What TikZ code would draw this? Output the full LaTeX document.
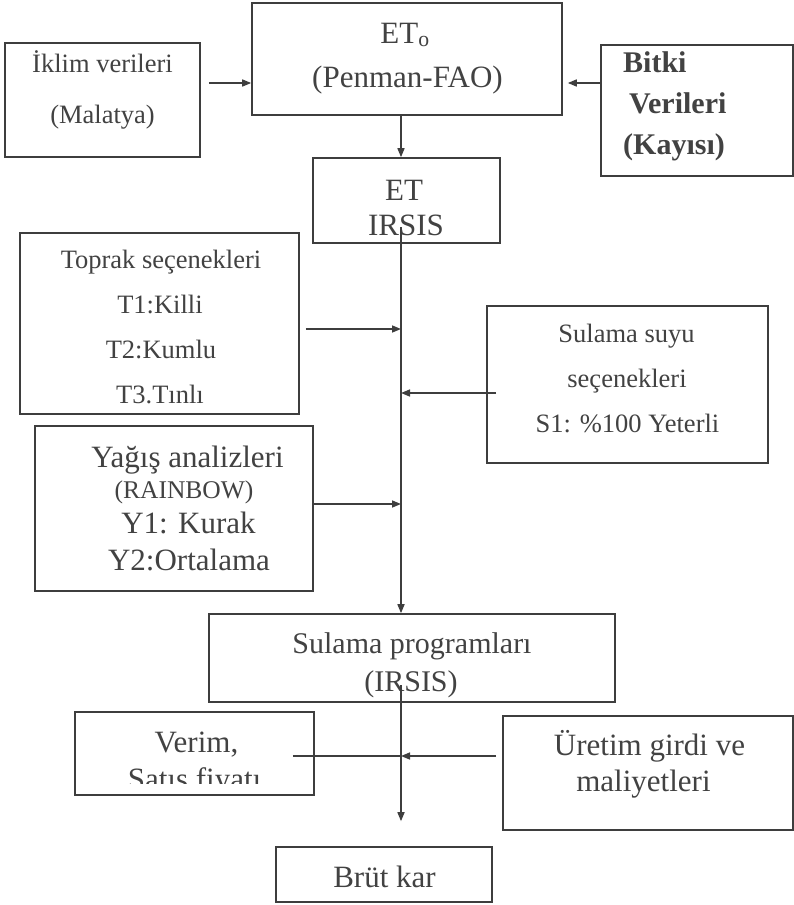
\documentclass[tikz,border=0pt]{standalone}
\usepackage{fontspec}
\setmainfont{Liberation Serif}
\usetikzlibrary{arrows.meta}
\definecolor{lc}{RGB}{62,62,62}
\definecolor{tc}{RGB}{66,66,66}
\newcommand\fsA{\fontsize{26.5}{32}\selectfont}
\newcommand\fsB{\fontsize{31}{37}\selectfont}
\newcommand\fsC{\fontsize{30}{36}\selectfont}
\newcommand\fsD{\fontsize{25.5}{30}\selectfont}
\tikzset{
  box/.style={draw=lc, line width=1.6pt, inner sep=0pt, fill=none},
  txt/.style={anchor=base, inner sep=0pt, text=tc},
  arr/.style={draw=lc, line width=1.5pt, -{Triangle[length=9pt,width=7pt]}},
  ln/.style={draw=lc, line width=1.5pt}
}
\begin{document}
\begin{tikzpicture}[x=1pt,y=-1pt]
\useasboundingbox (0,0) rectangle (794,905);
\fill[white] (0,0) rectangle (794,905);

% boxes
\node[box, minimum width=195, minimum height=114] (iklim) at (102.5,100) {};
\node[box, minimum width=310, minimum height=112] (eto) at (407,59) {};
\node[box, minimum width=192, minimum height=131] (bitki) at (697,110.5) {};
\node[box, minimum width=187, minimum height=85] (et) at (406.5,200.5) {};
\node[box, minimum width=279, minimum height=181] (toprak) at (159.5,323.5) {};
\node[box, minimum width=281, minimum height=157] (sulsu) at (627.5,384.5) {};
\node[box, minimum width=278, minimum height=165] (yagis) at (174,508.5) {};
\node[box, minimum width=406, minimum height=88] (sprog) at (412,658) {};
\node[box, minimum width=239, minimum height=83] (verim) at (194.5,753.5) {};
\node[box, minimum width=290, minimum height=114] (uretim) at (648,773) {};
\node[box, minimum width=216, minimum height=55] (brut) at (384,874.5) {};

% texts
\node[txt, font=\fsA] (t-iklim1) at (102.5,72) {İklim verileri};
\node[txt, font=\fsA] (t-iklim2) at (102.5,123) {(Malatya)};
\node[txt, font=\fsB] (t-eto1) at (405,43) {ET\textsubscript{o}};
\node[txt, font=\fsB] (t-eto2) at (407.5,87) {(Penman-FAO)};
\node[txt, font=\fsC\bfseries, anchor=base west] (t-bitki1) at (623,72) {Bitki};
\node[txt, font=\fsC\bfseries, anchor=base west] (t-bitki2) at (629,113) {Verileri};
\node[txt, font=\fsC\bfseries, anchor=base west] (t-bitki3) at (623,154) {(Kayısı)};
\node[txt, font=\fsB] (t-et1) at (404,200) {ET};
\node[txt, font=\fsB] (t-et2) at (406,235) {IRSIS};
\node[txt, font=\fsA] (t-top1) at (161,268) {Toprak seçenekleri};
\node[txt, font=\fsA] (t-top2) at (160,313) {T1:Killi};
\node[txt, font=\fsA] (t-top3) at (161,358) {T2:Kumlu};
\node[txt, font=\fsA] (t-top4) at (160,403) {T3.Tınlı};
\node[txt, font=\fsA] (t-su1) at (626.5,342) {Sulama suyu};
\node[txt, font=\fsA] (t-su2) at (627,387) {seçenekleri};
\node[txt, font=\fsA] (t-su3) at (627.5,432) {S1: \%100 Yeterli};
\node[txt, font=\fsB] (t-yag1) at (187.5,467) {Yağış analizleri};
\node[txt, font=\fsD] (t-yag2) at (184,498) {(RAINBOW)};
\node[txt, font=\fsB] (t-yag3) at (188.5,533) {Y1: Kurak};
\node[txt, font=\fsB] (t-yag4) at (189,570) {Y2:Ortalama};
\node[txt, font=\fsC] (t-sp1) at (412,653) {Sulama programları};
\node[txt, font=\fsC] (t-sp2) at (411,691) {(IRSIS)};
\node[txt, font=\fsB] (t-ver1) at (196.5,752) {Verim,};
\begin{scope}
\clip (0,700) rectangle (794,783);
\node[txt, font=\fsB] (t-ver2) at (194.5,789) {Satıs fiyatı};
\end{scope}
\node[txt, font=\fsB] (t-ur1) at (649.5,755) {Üretim girdi ve};
\node[txt, font=\fsB] (t-ur2) at (643.5,791) {maliyetleri};
\node[txt, font=\fsB] (t-brut) at (384.5,887) {Brüt kar};

% junction coordinates
\coordinate (ya) at (401,83);
\coordinate (sp0) at (401,227);
\coordinate (j1) at (401,329);
\coordinate (j2) at (401,393);
\coordinate (j3) at (401,504);
\coordinate (sp1) at (401,685);
\coordinate (j4) at (401,756);

% connectors
\draw[arr, shorten <=8pt] (iklim.east |- ya) -- (eto.west |- ya);
\draw[arr, shorten >=5pt] (bitki.west |- ya) -- (eto.east |- ya);
\draw[arr] (eto.south -| ya) -- (et.north -| ya);
\draw[arr] (sp0) -- (sprog.north -| sp0);
\draw[arr, shorten <=6pt] (toprak.east |- j1) -- (j1);
\draw[arr, shorten <=-10pt] (sulsu.west |- j2) -- (j2);
\draw[arr] (yagis.east |- j3) -- (j3);
\draw[arr, shorten >=25pt] (sp1) -- (brut.north -| sp1);
\draw[ln, shorten <=-22pt] (verim.east |- j4) -- (j4);
\draw[arr, shorten <=6pt] (uretim.west |- j4) -- (j4);
\end{tikzpicture}
\end{document}
